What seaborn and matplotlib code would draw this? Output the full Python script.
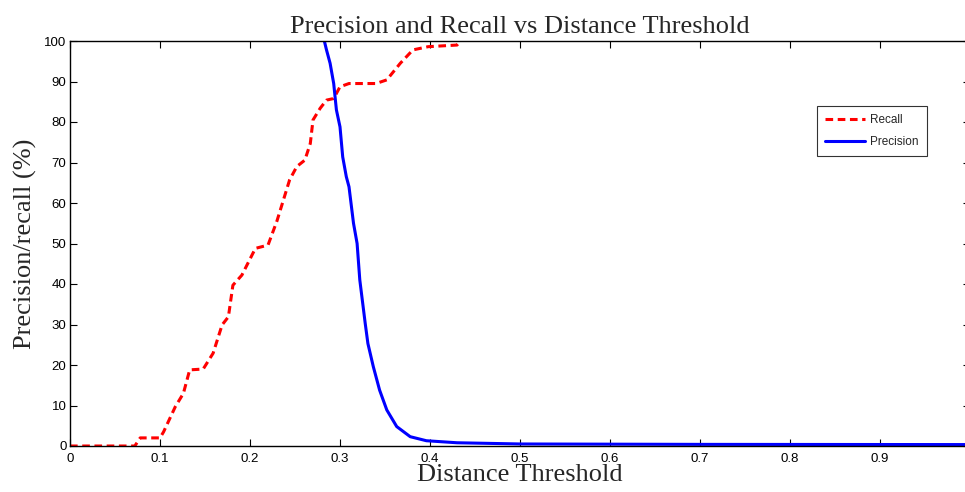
#%% Imports

import pandas as pd
import matplotlib as mpl
mpl.use('Agg')
import matplotlib.pyplot as plt
import seaborn as sns

#%% Data

recall_x = [0.0, 0.072, 0.078, 0.100, 0.104, 0.117, 0.126, 0.133, 0.148, 0.159,
            0.169, 0.176, 0.181, 0.191, 0.206, 0.220, 0.230, 0.244, 0.252, 0.261,
            0.267, 0.270, 0.278, 0.285, 0.293, 0.300, 0.310, 0.340, 0.352, 0.367,
            0.381, 0.398, 0.430, 0.434]
recall_y = [0.0, 0.0, 2.0, 2.0, 3.5, 9.7, 13.0, 18.8, 19.0, 22.9,
            29.9, 31.9, 39.7, 42.2, 48.8, 49.6, 55.6, 65.7, 69.0, 70.6,
            74.7, 80.5, 83.4, 85.4, 85.8, 88.7, 89.5, 89.5, 90.4, 94.5,
            97.8, 98.6, 99.0, 100.0]

precision_x = [0.2826, 0.285, 0.289, 0.293, 0.296, 0.300, 0.303, 0.307, 0.310, 0.315,
               0.319, 0.322, 0.328, 0.331, 0.337, 0.344, 0.352, 0.363, 0.378, 0.396,
               0.430, 0.500, 0.700, 1.0]
precision_y = [100.0, 97.8, 94.5, 89.5, 83.0, 78.8, 71.4, 66.5, 64.0, 55.0,
               50.0, 41.0, 30.3, 25.3, 19.6, 13.8, 8.9, 4.8, 2.3, 1.3,
               0.8, 0.5, 0.4, 0.35]

x_ticks = [0, 0.1, 0.2, 0.3, 0.4, 0.5, 0.6, 0.7, 0.8, 0.9, 1]
x_labels = ['0', '0.1', '0.2', '0.3', '0.4', '0.5', '0.6', '0.7', '0.8', '0.9', '1']
y_ticks = list(range(0, 101, 10))

#%% Long form table

df = pd.concat([
    pd.DataFrame({'x': recall_x, 'y': recall_y, 'series': 'Recall'}),
    pd.DataFrame({'x': precision_x, 'y': precision_y, 'series': 'Precision'}),
], ignore_index=True)

#%% Plot

sns.set_style('ticks')
plt.rcParams['font.family'] = ['Liberation Sans', 'DejaVu Sans']

fig = plt.figure(figsize=(9.65, 4.92), dpi=100)
ax = fig.add_axes([70 / 965, 46 / 492, 900 / 965, 405 / 492])

sns.lineplot(data=df, x='x', y='y', hue='series', style='series',
             hue_order=['Recall', 'Precision'], style_order=['Recall', 'Precision'],
             palette={'Recall': 'red', 'Precision': 'blue'},
             dashes={'Recall': (2.5, 1.5), 'Precision': ''},
             estimator=None, sort=False, linewidth=2.2, ax=ax)

ax.set_xlim(0, 1)
ax.set_ylim(0, 100)
ax.set_xticks(x_ticks)
ax.set_xticklabels(x_labels)
ax.set_yticks(y_ticks)
ax.tick_params(direction='in', length=5, width=0.8, labelsize=9.5,
               top=True, right=True, colors='black')
ax.tick_params(axis='y', pad=2.5)
ax.tick_params(axis='x', pad=5)
for s in ax.spines.values():
    s.set_visible(True)
    s.set_linewidth(1.0)
    s.set_color('black')

serif = ['Liberation Serif', 'DejaVu Serif']
ax.set_title('Precision and Recall vs Distance Threshold', family=serif,
             fontsize=19, pad=6)
ax.set_xlabel('Distance Threshold', family=serif, fontsize=19, labelpad=-1)
ax.set_ylabel('Precision/recall (%)', family=serif, fontsize=19, labelpad=5)

leg = ax.legend(loc='upper right', bbox_to_anchor=(0.952, 0.84), fontsize=8.5,
                frameon=True, fancybox=False, handlelength=3.4, handletextpad=0.4,
                borderpad=0.7, labelspacing=0.85, borderaxespad=0)
leg.get_frame().set_edgecolor('black')
leg.get_frame().set_linewidth(0.8)
leg.set_title(None)

fig.savefig('out.png', dpi=100)
